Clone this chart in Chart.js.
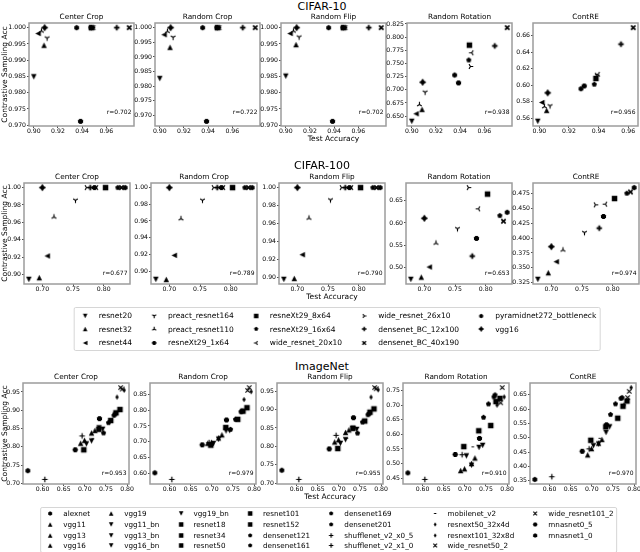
<!DOCTYPE html>
<html>
<head>
<meta charset="utf-8">
<title>Contrastive sampling accuracy vs test accuracy</title>
<script src="https://cdn.jsdelivr.net/npm/chart.js@4.4.1/dist/chart.umd.min.js"></script>
<style>
  html, body { margin: 0; padding: 0; background: #fff; overflow: hidden; }
  #fig { position: relative; width: 640px; height: 552px; font-family: "DejaVu Sans", sans-serif; color: #000; }
  #fig canvas.panel { position: absolute; }
  .suptitle { position: absolute; font-size: 11px; transform: translate(-50%, -50%); white-space: nowrap; }
  .rval { position: absolute; font-size: 6px; line-height: 1; transform: translate(-100%, -50%); white-space: nowrap; }
  .legend { position: absolute; transform: translateX(-50%); border: 1px solid #d6d6d6; border-radius: 2px; display: flex; background: #fff; }
  .legend .col { display: flex; flex-direction: column; }
  .legend .row { display: flex; align-items: center; white-space: nowrap; }
  .legend canvas { display: block; }
</style>
</head>
<body>
<div id="fig"></div>
<script>
// CIFAR models (legend order)
const cifarModels = ['resnet20', 'resnet32', 'resnet44', 'preact_resnet164', 'preact_resnet110', 'resneXt29_1x64',
  'resneXt29_8x64', 'resneXt29_16x64', 'wide_resnet_20x10', 'wide_resnet_26x10', 'densenet_BC_12x100',
  'densenet_BC_40x190', 'pyramidnet272_bottleneck', 'vgg16'];
const cifarMarkers = ['v', '^', '<', '1', '2', '8', 's', 'p', '3', '4', 'P', 'X', 'h', 'P8'];

// CIFAR-10
const c10Acc = [0.9000, 0.9085, 0.9035, 0.9110, 0.9063, 0.9387, 0.9477, 0.9472, 0.9496, 0.9486, 0.9687, 0.9790, 0.9355, 0.9090];
const c10AccContRE = [0.8989, 0.9049, 0.9016, 0.9072, 0.9034, 0.9303, 0.9382, 0.9371, 0.9396, 0.9387, 0.9551, 0.9634, 0.9281, 0.9056];
const c10CenterCrop = [0.9849, 0.9946, 0.9982, 0.9968, 0.9990, 0.9712, 1, 1, 1, 1, 1, 1, 1, 1];
const c10RandomCrop = [0.9826, 0.9933, 0.9976, 0.9967, 0.9988, 0.9680, 1, 1, 1, 1, 1, 1, 1, 1];
const c10RandomFlip = [0.9851, 0.9948, 0.9982, 0.9971, 0.9990, 0.9712, 1, 1, 1, 1, 1, 1, 1, 1];
const c10RandomRotation = [0.6402, 0.6629, 0.6545, 0.6955, 0.6721, 0.7131, 0.7848, 0.7566, 0.7703, 0.7443, 0.7834, 0.8180, 0.7281, 0.7144];
const c10ContRE = [0.5563, 0.5696, 0.5791, 0.5749, 0.5741, 0.5990, 0.6081, 0.6011, 0.6131, 0.6120, 0.6496, 0.6695, 0.5957, 0.5907];
const c10R = ['0.702', '0.722', '0.702', '0.938', '0.956'];

// CIFAR-100
const c100Acc = [0.678, 0.695, 0.708, 0.754, 0.719, 0.785, 0.803, 0.823, 0.788, 0.772, 0.778, 0.829, 0.835, 0.700];
const c100CenterCrop = [0.8942, 0.8962, 0.9212, 0.9854, 0.9662, 1, 1, 1, 1, 1, 1, 1, 1, 1];
const c100RandomCrop = [0.8900, 0.8900, 0.9188, 0.9848, 0.9628, 1, 1, 1, 1, 1, 1, 1, 1, 1];
const c100RandomFlip = [0.8974, 0.8985, 0.9250, 0.9862, 0.9660, 1, 1, 1, 1, 1, 1, 1, 1, 1];
const c100RandomRotation = [0.4738, 0.4790, 0.5015, 0.5870, 0.5552, 0.5655, 0.6647, 0.6165, 0.6317, 0.6792, 0.5260, 0.6040, 0.6240, 0.6105];
const c100ContRE = [0.3306, 0.3418, 0.3603, 0.4090, 0.3800, 0.4361, 0.4662, 0.4750, 0.4567, 0.4556, 0.4165, 0.4772, 0.4845, 0.3855];
const c100R = ['0.677', '0.789', '0.790', '0.653', '0.974'];

// ImageNet models (legend order)
const inModels = ['alexnet', 'vgg11', 'vgg13', 'vgg16', 'vgg19', 'vgg11_bn', 'vgg13_bn', 'vgg16_bn', 'vgg19_bn',
  'resnet18', 'resnet34', 'resnet50', 'resnet101', 'resnet152', 'densenet121', 'densenet161', 'densenet169',
  'densenet201', 'shufflenet_v2_x0_5', 'shufflenet_v2_x1_0', 'mobilenet_v2', 'resnext50_32x4d', 'resnext101_32x8d',
  'wide_resnet50_2', 'wide_resnet101_2', 'mnasnet0_5', 'mnasnet1_0'];
const inMarkers = ['h', '^', '^', '^', '^', 'v', 'v', 'v', 'v', 's', 's', 's', 's', 's', 'p', 'p', 'p', 'p',
  '+', '+', ',', 'd', 'd', 'x', 'x', 'H', '8'];
const inAcc = [0.5652, 0.6902, 0.6993, 0.7159, 0.7238, 0.7037, 0.7159, 0.7336, 0.7422, 0.6976, 0.7331, 0.7613, 0.7737,
  0.7831, 0.7443, 0.7714, 0.7560, 0.7690, 0.6055, 0.6936, 0.7188, 0.7762, 0.7931, 0.7847, 0.7885, 0.6773, 0.7346];
const inCenterCrop = [0.735, 0.810, 0.818, 0.838, 0.845, 0.808, 0.816, 0.852, 0.848, 0.792, 0.848, 0.872, 0.893,
  0.902, 0.838, 0.890, 0.866, 0.886, 0.711, 0.830, 0.822, 0.936, 0.955, 0.962, 0.958, 0.792, 0.877];
const inRandomCrop = [0.601, 0.695, 0.698, 0.712, 0.722, 0.694, 0.708, 0.734, 0.735, 0.689, 0.745, 0.771, 0.797,
  0.808, 0.739, 0.797, 0.771, 0.795, 0.580, 0.697, 0.715, 0.834, 0.859, 0.863, 0.872, 0.690, 0.769];
const inRandomFlip = [0.735, 0.812, 0.818, 0.838, 0.845, 0.808, 0.818, 0.849, 0.846, 0.794, 0.849, 0.869, 0.893,
  0.902, 0.836, 0.889, 0.866, 0.886, 0.710, 0.830, 0.822, 0.934, 0.954, 0.960, 0.957, 0.793, 0.878];
const inRandomRotation = [0.468, 0.476, 0.482, 0.500, 0.519, 0.526, 0.494, 0.555, 0.562, 0.558, 0.612, 0.630, 0.712,
  0.723, 0.658, 0.735, 0.704, 0.728, 0.4455, 0.530, 0.557, 0.700, 0.728, 0.708, 0.760, 0.531, 0.586];
const inContRE = [0.3543, 0.440, 0.462, 0.481, 0.494, 0.472, 0.478, 0.518, 0.538, 0.491, 0.538, 0.568, 0.610,
  0.628, 0.581, 0.640, 0.618, 0.637, 0.3636, 0.461, 0.498, 0.614, 0.675, 0.640, 0.662, 0.4526, 0.545];
const inR = ['0.953', '0.979', '0.955', '0.910', '0.970'];

// tick labels
const transforms = ['Center Crop', 'Random Crop', 'Random Flip', 'Random Rotation', 'ContRE'];
const c10XTicks = ['0.90', '0.92', '0.94', '0.96'];
const c10CropTicks = ['0.970', '0.975', '0.980', '0.985', '0.990', '0.995', '1.000'];
const c10RotationTicks = ['0.650', '0.675', '0.700', '0.725', '0.750', '0.775', '0.800', '0.825'];
const c10ContRETicks = ['0.56', '0.58', '0.60', '0.62', '0.64', '0.66'];
const c100XTicks = ['0.70', '0.75', '0.80'];
const c100CropTicks = ['0.90', '0.92', '0.94', '0.96', '0.98', '1.00'];
const c100RotationTicks = ['0.50', '0.55', '0.60', '0.65'];
const c100ContRETicks = ['0.325', '0.350', '0.375', '0.400', '0.425', '0.450', '0.475'];
const inXTicks = ['0.60', '0.65', '0.70', '0.75', '0.80'];
const inCenterTicks = ['0.70', '0.75', '0.80', '0.85', '0.90', '0.95'];
const inRandomCropTicks = ['0.60', '0.65', '0.70', '0.75', '0.80', '0.85'];
const inRotationTicks = ['0.45', '0.50', '0.55', '0.60', '0.65', '0.70', '0.75'];
const inContRETicks = ['0.35', '0.40', '0.45', '0.50', '0.55', '0.60', '0.65'];

const fig = document.getElementById('fig');
const FONT = 'DejaVu Sans';
const TITLE_SIZE = 7.3;
const MARK = 5.5;

// draw one matplotlib-like marker
function drawMarker(ctx, type, cx, cy, s) {
  const r = s / 2;
  ctx.fillStyle = '#000';
  ctx.strokeStyle = '#000';
  ctx.lineWidth = 1.1;
  const poly = pts => {
    ctx.beginPath();
    pts.forEach(([x, y], i) => i ? ctx.lineTo(cx + x, cy + y) : ctx.moveTo(cx + x, cy + y));
    ctx.closePath();
    ctx.fill();
  };
  const ngon = (n, rad, rot) => {
    const pts = [];
    for (let i = 0; i < n; i++) {
      const a = rot + i * 2 * Math.PI / n;
      pts.push([rad * Math.sin(a), -rad * Math.cos(a)]);
    }
    poly(pts);
  };
  const lines = segs => {
    ctx.beginPath();
    segs.forEach(([x0, y0, x1, y1]) => { ctx.moveTo(cx + x0, cy + y0); ctx.lineTo(cx + x1, cy + y1); });
    ctx.stroke();
  };
  switch (type) {
    case 'v': poly([[-r, -r], [r, -r], [0, r]]); break;
    case '^': poly([[-r, r], [r, r], [0, -r]]); break;
    case '<': poly([[r, -r], [r, r], [-r, 0]]); break;
    case '1': lines([[0, 0, 0, r], [0, 0, -0.85 * r, -0.55 * r], [0, 0, 0.85 * r, -0.55 * r]]); break;
    case '2': lines([[0, 0, 0, -r], [0, 0, -0.85 * r, 0.55 * r], [0, 0, 0.85 * r, 0.55 * r]]); break;
    case '3': lines([[0, 0, -r, 0], [0, 0, 0.55 * r, -0.85 * r], [0, 0, 0.55 * r, 0.85 * r]]); break;
    case '4': lines([[0, 0, r, 0], [0, 0, -0.55 * r, -0.85 * r], [0, 0, -0.55 * r, 0.85 * r]]); break;
    case '8': ngon(8, r, Math.PI / 8); break;
    case 's': ctx.fillRect(cx - r, cy - r, s, s); break;
    case 'p': ngon(5, r, 0); break;
    case 'h': ngon(6, r, 0); break;
    case 'H': ngon(6, r * 1.05, Math.PI / 6); break;
    case 'd': poly([[0, -r], [0.6 * r, 0], [0, r], [-0.6 * r, 0]]); break;
    case '+': ctx.lineWidth = 1.2; lines([[-r, 0, r, 0], [0, -r, 0, r]]); break;
    case 'x': lines([[-r * 0.8, -r * 0.8, r * 0.8, r * 0.8], [-r * 0.8, r * 0.8, r * 0.8, -r * 0.8]]); break;
    case 'P': {
      const t = s / 6;
      ctx.fillRect(cx - r, cy - t, s, 2 * t);
      ctx.fillRect(cx - t, cy - r, 2 * t, s);
      break;
    }
    case 'X': ctx.lineWidth = s / 3.3; lines([[-r * 0.8, -r * 0.8, r * 0.8, r * 0.8], [-r * 0.8, r * 0.8, r * 0.8, -r * 0.8]]); break;
    case ',': ctx.fillRect(cx - 1.2, cy - 0.5, 2.4, 1); break;
    case 'P8': {
      ngon(8, r * 0.85, Math.PI / 8);
      const t = s / 7;
      ctx.fillRect(cx - r * 1.15, cy - t, r * 2.3, 2 * t);
      ctx.fillRect(cx - t, cy - r * 1.15, 2 * t, r * 2.3);
      break;
    }
  }
}

const markerCache = {};
function markerImage(type, size) {
  const key = type + '_' + size;
  if (!markerCache[key]) {
    const n = Math.ceil(size + 5);
    const c = document.createElement('canvas');
    c.width = n;
    c.height = n;
    drawMarker(c.getContext('2d'), type, n / 2, n / 2, size);
    markerCache[key] = c;
  }
  return markerCache[key];
}

// matplotlib-style 5% margins
function padded(vals) {
  const lo = Math.min(...vals), hi = Math.max(...vals), m = (hi - lo) * 0.05;
  return [lo - m, hi + m];
}

// grey box round the plot area
const framePlugin = {
  id: 'frame',
  afterDraw(chart) {
    const { ctx, chartArea: a } = chart;
    ctx.save();
    ctx.strokeStyle = '#9c9c9c';
    ctx.lineWidth = 1.5;
    ctx.strokeRect(a.left, a.top, a.right - a.left, a.bottom - a.top);
    ctx.restore();
  }
};

function axisOptions(range, labels, size, pad, title) {
  const vals = labels.map(Number);
  return {
    type: 'linear',
    min: range[0],
    max: range[1],
    bounds: 'data',
    afterBuildTicks: s => { s.ticks = vals.map(v => ({ value: v })); },
    ticks: {
      autoSkip: false, maxRotation: 0, minRotation: 0, padding: pad, color: '#000',
      font: { family: FONT, size: 6.2, lineHeight: 1 },
      callback: (v, i) => labels[i]
    },
    grid: { display: true, drawOnChartArea: false, drawTicks: true, tickLength: 2, tickWidth: 0.8, tickColor: '#222' },
    border: { display: false },
    title: title
      ? { display: true, text: title.text, color: '#000', font: { family: FONT, size: 7.5 }, padding: title.padding }
      : { display: false },
    afterFit: s => { if (s.isHorizontal()) s.height = size; else s.width = size; }
  };
}

function makePanel(p) {
  const yw = p.yTitle ? p.left : 26;
  const titleBlock = 1 + TITLE_SIZE * 1.2 + 1.1;
  const xh = 17.5, padR = 12;
  const cLeft = p.left - yw;
  const cTop = Math.floor(p.top - titleBlock);
  const padTop = p.top - titleBlock - cTop;
  const height = Math.ceil(p.top - cTop + p.h + xh);
  const padBottom = height - (p.top - cTop + p.h + xh);

  const canvas = document.createElement('canvas');
  canvas.className = 'panel';
  canvas.width = yw + p.w + padR;
  canvas.height = height;
  canvas.style.left = cLeft + 'px';
  canvas.style.top = cTop + 'px';
  fig.appendChild(canvas);

  new Chart(canvas, {
    type: 'scatter',
    data: {
      datasets: p.models.map((m, i) => ({
        label: m,
        data: [{ x: p.xs[i], y: p.ys[i] }],
        pointStyle: markerImage(p.markers[i], MARK),
        pointRadius: 3,
        pointHoverRadius: 3
      }))
    },
    options: {
      responsive: false,
      animation: false,
      events: [],
      layout: { padding: { top: padTop, bottom: padBottom, left: 0, right: padR } },
      plugins: {
        legend: { display: false },
        tooltip: { enabled: false },
        title: {
          display: true, text: p.title, fullSize: false, color: '#000',
          font: { family: FONT, size: TITLE_SIZE, weight: 'normal' },
          padding: { top: 1, bottom: 1.1 }
        }
      },
      scales: {
        x: axisOptions(padded(p.xs), p.xTicks, xh, 0,
          p.xTitle ? { text: 'Test Accuracy', padding: { top: 0, bottom: 0 } } : null),
        y: axisOptions(padded(p.ys), p.yTicks, yw, 1,
          p.yTitle ? { text: 'Contrastive Sampling Acc', padding: { top: 0.5, bottom: 0 } } : null)
      }
    },
    plugins: [framePlugin]
  });

  const r = document.createElement('div');
  r.className = 'rval';
  r.textContent = 'r=' + p.r;
  r.style.left = (p.left + p.w - 2.5) + 'px';
  r.style.top = (p.top + p.h - p.rOff) + 'px';
  fig.appendChild(r);
}

function supTitle(text, y) {
  const d = document.createElement('div');
  d.className = 'suptitle';
  d.textContent = text;
  d.style.left = '322px';
  d.style.top = y + 'px';
  fig.appendChild(d);
}

function buildLegend(names, markers, o) {
  const box = document.createElement('div');
  box.className = 'legend';
  box.style.left = o.cx + 'px';
  box.style.top = o.top + 'px';
  box.style.fontSize = o.font + 'px';
  box.style.padding = o.padY + 'px ' + (0.4 * o.font) + 'px';
  const em = o.font;
  const nCols = Math.ceil(names.length / o.rows);
  for (let c = 0; c < nCols; c++) {
    const col = document.createElement('div');
    col.className = 'col';
    if (c > 0) col.style.marginLeft = (2 * em) + 'px';
    for (let k = 0; k < o.rows; k++) {
      const i = c * o.rows + k;
      if (i >= names.length) break;
      const row = document.createElement('div');
      row.className = 'row';
      row.style.height = o.pitch + 'px';
      const cv = document.createElement('canvas');
      cv.width = Math.round(2 * em);
      cv.height = Math.round(o.pitch);
      cv.style.marginRight = (0.8 * em) + 'px';
      drawMarker(cv.getContext('2d'), markers[i], cv.width / 2, cv.height / 2, 4.5);
      const span = document.createElement('span');
      span.textContent = names[i];
      row.append(cv, span);
      col.appendChild(row);
    }
    box.appendChild(col);
  }
  fig.appendChild(box);
}

const rows = [
  { name: 'CIFAR-10', supY: 6, top: 23, h: 103, w: 105, lefts: [29, 155, 281, 407, 533], rOff: 14,
    models: cifarModels, markers: cifarMarkers,
    xs: [c10Acc, c10Acc, c10Acc, c10Acc, c10AccContRE], xTicks: c10XTicks,
    ys: [c10CenterCrop, c10RandomCrop, c10RandomFlip, c10RandomRotation, c10ContRE],
    yTicks: [c10CropTicks, c10CropTicks, c10CropTicks, c10RotationTicks, c10ContRETicks], r: c10R },
  { name: 'CIFAR-100', supY: 165, top: 183, h: 101, w: 106, lefts: [24, 151, 279, 406, 533], rOff: 10.7,
    models: cifarModels, markers: cifarMarkers,
    xs: [c100Acc, c100Acc, c100Acc, c100Acc, c100Acc], xTicks: c100XTicks,
    ys: [c100CenterCrop, c100RandomCrop, c100RandomFlip, c100RandomRotation, c100ContRE],
    yTicks: [c100CropTicks, c100CropTicks, c100CropTicks, c100RotationTicks, c100ContRETicks], r: c100R },
  { name: 'ImageNet', supY: 366, top: 383, h: 101, w: 106, lefts: [23, 150, 277, 403, 530], rOff: 10.7,
    models: inModels, markers: inMarkers,
    xs: [inAcc, inAcc, inAcc, inAcc, inAcc], xTicks: inXTicks,
    ys: [inCenterCrop, inRandomCrop, inRandomFlip, inRandomRotation, inContRE],
    yTicks: [inCenterTicks, inRandomCropTicks, inCenterTicks, inRotationTicks, inContRETicks], r: inR }
];

rows.forEach(row => {
  supTitle(row.name, row.supY);
  transforms.forEach((t, k) => {
    makePanel({
      title: t, left: row.lefts[k], top: row.top, w: row.w, h: row.h, rOff: row.rOff,
      models: row.models, markers: row.markers,
      xs: row.xs[k], ys: row.ys[k], xTicks: row.xTicks, yTicks: row.yTicks[k],
      r: row.r[k], xTitle: k === 2, yTitle: k === 0
    });
  });
});

buildLegend(cifarModels, cifarMarkers, { cx: 337, top: 307, rows: 3, font: 7.5, pitch: 13.5, padY: 0.75 });
buildLegend(inModels, inMarkers, { cx: 328.5, top: 507, rows: 4, font: 7.2, pitch: 10.7, padY: 0.5 });
</script>
</body>
</html>
